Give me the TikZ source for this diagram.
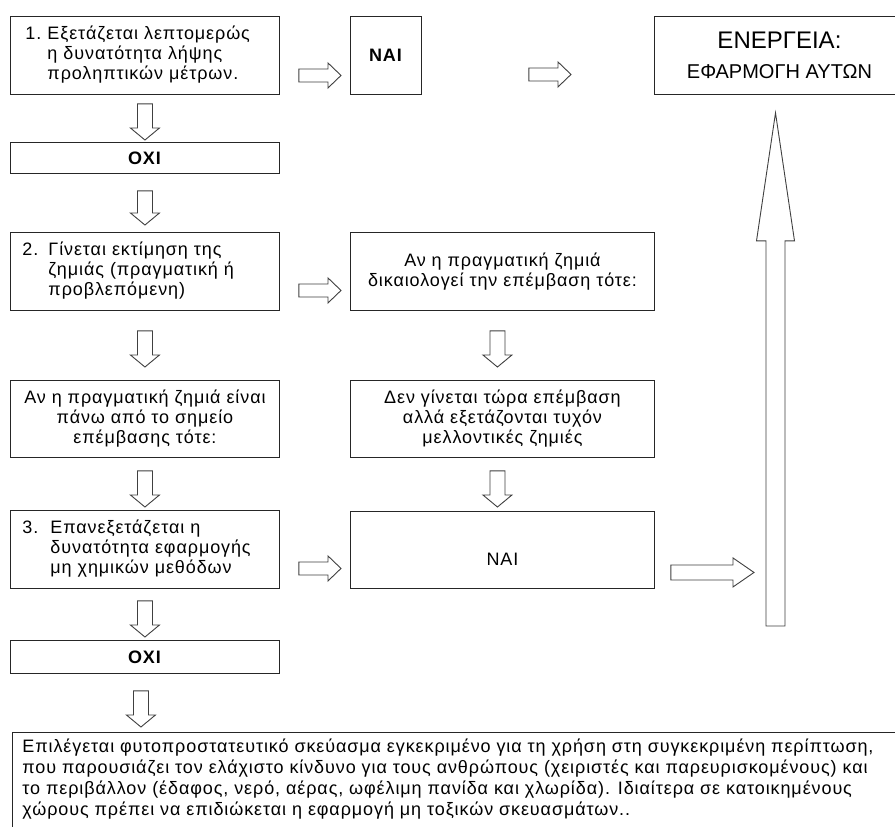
\documentclass[tikz,border=0pt]{standalone}
\usepackage{fontspec}
\setmainfont{Liberation Sans}
\newfontfamily\boxfont[LetterSpace=5]{Liberation Sans}
\usetikzlibrary{calc}

\tikzset{
    box/.style={draw=black!85, line width=0.9pt, fill=white, inner sep=0pt,
        anchor=north west, font=\boxfont\fontsize{18}{20}\selectfont},
    hollow/.style={draw=black!75, line width=0.9pt, fill=white},
}

% hollow block arrows: start, tip, shaft half width, head half width, head length
\newcommand{\varrow}[5]{%
    \draw[hollow] let \p1=#1, \p2=#2 in
        ({\x1-#3},{\y1}) -- ({\x1+#3},{\y1}) -- ({\x1+#3},{\y2+#5}) -- ({\x1+#4},{\y2+#5})
        -- ({\x1},{\y2}) -- ({\x1-#4},{\y2+#5}) -- ({\x1-#3},{\y2+#5}) -- cycle;}
\newcommand{\harrow}[5]{%
    \draw[hollow] let \p1=#1, \p2=#2 in
        ({\x1},{\y1+#3}) -- ({\x2-#5},{\y1+#3}) -- ({\x2-#5},{\y1+#4}) -- ({\x2},{\y1})
        -- ({\x2-#5},{\y1-#4}) -- ({\x2-#5},{\y1-#3}) -- ({\x1},{\y1-#3}) -- cycle;}

\begin{document}
\begin{tikzpicture}[x=1pt, y=-1pt]
    \useasboundingbox (0,0) rectangle (895,827);
    \fill[white] (0,0) rectangle (895,827);
    \clip (0,0) rectangle (895,827);

    % left column
    \node[box, minimum width=269pt, minimum height=78pt, text width=245pt, inner xsep=12pt, align=left] (meas) at (10,16) {
        \begin{tabular}{@{}p{25pt}@{}l@{}}
            \hspace{3pt}1. & Εξετάζεται λεπτομερώς \\
               & η δυνατότητα λήψης \\
               & προληπτικών μέτρων.
        \end{tabular}
    };
    \node[box, minimum width=269pt, minimum height=31pt] (no1) at (10,142) {\textbf{ΟΧΙ}};
    \node[box, minimum width=269pt, minimum height=78pt, text width=245pt, inner xsep=12pt, align=left] (est) at (10,232) {
        \begin{tabular}{@{}p{26pt}@{}l@{}}
            2. & Γίνεται εκτίμηση της \\
               & ζημιάς (πραγματική ή \\
               & προβλεπόμενη)
        \end{tabular}
    };
    \node[box, minimum width=269pt, minimum height=77pt, align=center] (thr) at (10,380) {
        Αν η πραγματική ζημιά είναι \\ πάνω από το σημείο \\ επέμβασης τότε:
    };
    \node[box, minimum width=269pt, minimum height=78pt, text width=245pt, inner xsep=12pt, align=left] (recheck) at (10,510) {
        \begin{tabular}{@{}p{28pt}@{}l@{}}
            3. & Επανεξετάζεται η \\
               & δυνατότητα εφαρμογής \\
               & μη χημικών μεθόδων
        \end{tabular}
    };
    \node[box, minimum width=269pt, minimum height=33pt] (no2) at (10,640) {\textbf{ΟΧΙ}};

    % right column
    \node[box, minimum width=71pt, minimum height=78pt] (yes1) at (350,16) {\textbf{ΝΑΙ}};
    \node[box, minimum width=304pt, minimum height=78pt, align=center] (just) at (350,232) {
        Αν η πραγματική ζημιά \\ δικαιολογεί την επέμβαση τότε:
    };
    \node[box, minimum width=304pt, minimum height=77pt, align=center] (defer) at (350,380) {
        Δεν γίνεται τώρα επέμβαση \\ αλλά εξετάζονται τυχόν \\ μελλοντικές ζημιές
    };
    \node[box, minimum width=304pt, minimum height=77pt] (yes2) at (350,511) {\rule{0pt}{31pt}ΝΑΙ};
    \node[box, minimum width=250pt, minimum height=78pt, align=center, font=\rmfamily] (energ) at (654,16) {
        {\fontsize{24}{28}\selectfont ΕΝΕΡΓΕΙΑ:} \\[15pt]
        {\fontsize{20}{24}\selectfont ΕΦΑΡΜΟΓΗ ΑΥΤΩΝ}
    };

    % final choice, runs off the page
    \node[box, minimum width=900pt, inner xsep=10pt, inner ysep=6pt, font=\boxfont\fontsize{18}{21}\selectfont] (choice) at (12,732) {
        \parbox[t][100pt][t]{900pt}{%
            Επιλέγεται φυτοπροστατευτικό σκεύασμα εγκεκριμένο για τη χρήση στη συγκεκριμένη περίπτωση, \\
            που παρουσιάζει τον ελάχιστο κίνδυνο για τους ανθρώπους (χειριστές και παρευρισκομένους) και \\
            το περιβάλλον (έδαφος, νερό, αέρας, ωφέλιμη πανίδα και χλωρίδα). Ιδιαίτερα σε κατοικημένους \\
            χώρους πρέπει να επιδιώκεται η εφαρμογή μη τοξικών σκευασμάτων..}
    };

    \coordinate (risebase) at (775.5,626);

    % down arrows
    \varrow{([yshift=-9pt]meas.south)}{([yshift=2pt]no1.north)}{7.5pt}{14.5pt}{12pt}
    \varrow{([yshift=-17pt]no1.south)}{([yshift=7pt]est.north)}{7.5pt}{14.5pt}{12pt}
    \varrow{([yshift=-20pt]est.south)}{([yshift=13pt]thr.north)}{7.5pt}{14.5pt}{12pt}
    \varrow{([yshift=-13pt]thr.south)}{([yshift=3pt]recheck.north)}{7.5pt}{14.5pt}{12pt}
    \varrow{([yshift=-12pt]recheck.south)}{([yshift=3pt]no2.north)}{7.5pt}{14.5pt}{12pt}
    \varrow{([shift={(-4pt,-17pt)}]no2.south)}{([yshift=5pt]choice.north)}{7.5pt}{14.5pt}{12pt}
    \varrow{([shift={(-5pt,-20pt)}]just.south)}{([yshift=13pt]defer.north)}{7.5pt}{14.5pt}{12pt}
    \varrow{([shift={(-5pt,-13pt)}]defer.south)}{([yshift=4pt]yes2.north)}{7.5pt}{14.5pt}{12pt}

    % right arrows
    \harrow{([shift={(19pt,-20pt)}]meas.east)}{([xshift=-9pt]yes1.west)}{6.5pt}{12.5pt}{13pt}
    \harrow{([shift={(107pt,-19pt)}]yes1.east)}{([xshift=-83pt]energ.west)}{6.5pt}{12.5pt}{13pt}
    \harrow{([shift={(19pt,-19pt)}]est.east)}{([xshift=-9pt]just.west)}{6.5pt}{12.5pt}{13pt}
    \harrow{([shift={(19pt,-19pt)}]recheck.east)}{([xshift=-9pt]yes2.west)}{6.5pt}{12.5pt}{13pt}
    \harrow{([shift={(16pt,-22.5pt)}]yes2.east)}{([xshift=-21.5pt]risebase)}{7.5pt}{14.5pt}{21pt}

    % tall arrow up to the action box
    \varrow{(risebase)}{([yshift=-18pt]energ.south)}{9.5pt}{19pt}{-128pt}
\end{tikzpicture}
\end{document}
